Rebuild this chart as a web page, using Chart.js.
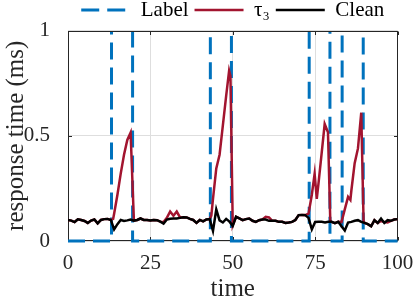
<!DOCTYPE html>
<html>
<head>
<meta charset="utf-8">
<script src="https://cdn.jsdelivr.net/npm/chart.js@4.4.0/dist/chart.umd.min.js"></script>
<style>
  html, body { margin: 0; padding: 0; background: #fff; }
  #wrap { width: 416px; height: 304px; position: relative; }
</style>
</head>
<body>
<div id="wrap"><canvas id="chart"></canvas></div>
<script>
// Response time traces

// Clean trace, one sample per time unit
const times = [
  0, 1, 2, 3, 4, 5, 6, 7, 8, 9,
  10, 11, 12, 13, 14, 15, 16, 17, 18, 19,
  20, 21, 22, 23, 24, 25, 26, 27, 28, 29,
  30, 31, 32, 33, 34, 35, 36, 37, 38, 39,
  40, 41, 42, 43, 44, 45, 46, 47, 48, 49,
  50, 51, 52, 53, 54, 55, 56, 57, 58, 59,
  60, 61, 62, 63, 64, 65, 66, 67, 68, 69,
  70, 71, 72, 73, 74, 75, 76, 77, 78, 79,
  80, 81, 82, 83, 84, 85, 86, 87, 88, 89,
  90, 91, 92, 93, 94, 95, 96, 97, 98, 99,
  100
];
const cleanValues = [
  0.100, 0.097, 0.090, 0.103, 0.100, 0.095, 0.086, 0.097, 0.102, 0.084,
  0.100, 0.104, 0.105, 0.100, 0.055, 0.080, 0.100, 0.095, 0.098, 0.102,
  0.097, 0.100, 0.107, 0.100, 0.100, 0.097, 0.100, 0.099, 0.092, 0.083,
  0.102, 0.106, 0.107, 0.107, 0.110, 0.113, 0.112, 0.105, 0.100, 0.086,
  0.100, 0.093, 0.102, 0.104, 0.048, 0.150, 0.098, 0.088, 0.105, 0.092,
  0.072, 0.115, 0.107, 0.099, 0.104, 0.107, 0.096, 0.091, 0.099, 0.102,
  0.102, 0.096, 0.096, 0.096, 0.091, 0.091, 0.086, 0.088, 0.091, 0.100,
  0.123, 0.124, 0.123, 0.110, 0.055, 0.090, 0.091, 0.091, 0.088, 0.091,
  0.091, 0.085, 0.091, 0.070, 0.050, 0.088, 0.091, 0.096, 0.099, 0.091,
  0.086, 0.080, 0.070, 0.099, 0.086, 0.107, 0.086, 0.099, 0.096, 0.102,
  0.104
];

// tau_3 trace (extra samples around the peaks)
const tau3Times = [
  0, 1, 2, 3, 4, 5, 6, 7, 8, 9, 10, 11, 12, 13,
  13.7,
  14, 15, 16, 17, 18, 19,
  20, 21, 22, 23, 24, 25, 26, 27, 28, 29,
  30, 31, 32, 33, 34,
  35, 36, 37, 38, 39, 40, 41, 42, 43,
  43.5, 44, 45, 46, 47, 48, 48.9, 49.3, 50,
  51, 52, 53, 54, 55, 56, 57, 58, 59,
  60, 61,
  62, 63, 64, 65, 66, 67, 68, 69, 70, 71, 72,
  73, 74, 74.85, 75.5, 76, 77, 77.9, 78.9, 79.6,
  80, 81, 82, 83,
  84, 85, 85.7, 86, 87, 88, 89, 89.7,
  90, 91, 92, 93, 94,
  95, 96, 97, 98, 99, 100
];
const tau3Values = [
  0.100, 0.097, 0.090, 0.103, 0.100, 0.095, 0.086, 0.097, 0.102, 0.084, 0.100, 0.104, 0.105, 0.100,
  0.105,
  0.13, 0.22, 0.32, 0.41, 0.48, 0.515,
  0.097, 0.100, 0.107, 0.100, 0.100, 0.097, 0.100, 0.099, 0.092, 0.090,
  0.110, 0.140, 0.120, 0.140, 0.112,
  0.113, 0.112, 0.105, 0.100, 0.086, 0.100, 0.093, 0.102, 0.104,
  0.12, 0.20, 0.345, 0.41, 0.55, 0.69, 0.81, 0.785, 0.075,
  0.115, 0.107, 0.099, 0.104, 0.107, 0.096, 0.091, 0.099, 0.102,
  0.115, 0.112,
  0.096, 0.096, 0.091, 0.091, 0.086, 0.088, 0.091, 0.100, 0.123, 0.124, 0.123,
  0.13, 0.22, 0.32, 0.20, 0.27, 0.42, 0.556, 0.517, 0.095,
  0.091, 0.085, 0.091, 0.090,
  0.15, 0.21, 0.195, 0.24, 0.37, 0.44, 0.61, 0.095,
  0.086, 0.080, 0.070, 0.099, 0.086,
  0.095, 0.090, 0.088, 0.096, 0.102, 0.104
];

// Label: step signal, value holds until the next change time
const labelTimes = [0, 13.2, 19.6, 43.2, 49.6, 73.2, 79.5, 83.2, 89.6, 100];
const labelValues = [0, 1, 0, 1, 0, 1, 0, 1, 0, 0];

const xTicks = [0, 25, 50, 75, 100];
const yTicks = [0, 0.5, 1];

const serif = "'Liberation Serif', 'Times New Roman', serif";
const axisColor = '#262626';

function toPoints(xs, ys) {
  return xs.map((x, i) => ({ x: x, y: ys[i] }));
}

// Box around the plot area with inward tick marks
const axesBox = {
  id: 'axesBox',
  beforeDatasetsDraw(chart) {
    const { ctx, chartArea: a, scales } = chart;
    const l = Math.round(a.left) + 0.5;
    const r = Math.round(a.right) - 0.5;
    const t = Math.round(a.top) + 0.5;
    const b = Math.round(a.bottom) - 0.5;
    const len = 3.5;
    ctx.save();
    ctx.strokeStyle = axisColor;
    ctx.lineWidth = 1;
    ctx.strokeRect(l, t, r - l, b - t);
    ctx.beginPath();
    xTicks.forEach(v => {
      const px = Math.round(scales.x.getPixelForValue(v)) + 0.5;
      ctx.moveTo(px, b); ctx.lineTo(px, b - len);
      ctx.moveTo(px, t); ctx.lineTo(px, t + len);
    });
    yTicks.forEach(v => {
      const py = Math.round(scales.y.getPixelForValue(v)) + 0.5;
      ctx.moveTo(l, py); ctx.lineTo(l + len, py);
      ctx.moveTo(r, py); ctx.lineTo(r - len, py);
    });
    ctx.stroke();
    ctx.restore();
  }
};

const ctx = document.getElementById('chart').getContext('2d');

new Chart(ctx, {
  type: 'line',
  data: {
    datasets: [
      {
        label: 'Label',
        data: toPoints(labelTimes, labelValues),
        borderColor: '#0072BD',
        borderWidth: 3,
        borderDash: [17, 8],
        borderCapStyle: 'butt',
        stepped: true,
        pointRadius: 0,
        // the top edge of the box hides the "1" level, as in the original
        clip: { left: 2, right: 2, top: -1.5, bottom: 2 },
        order: 3
      },
      {
        label: 'τ₃',
        data: toPoints(tau3Times, tau3Values),
        borderColor: '#A2142F',
        borderWidth: 2.5,
        pointRadius: 0,
        order: 2
      },
      {
        label: 'Clean',
        data: toPoints(times, cleanValues),
        borderColor: '#000000',
        borderWidth: 2.5,
        pointRadius: 0,
        order: 1
      }
    ]
  },
  options: {
    responsive: true,
    maintainAspectRatio: false,
    animation: false,
    events: [],
    layout: { padding: { left: 0, right: 18.5, top: -8.5, bottom: 0 } },
    plugins: {
      legend: {
        position: 'top',
        fullSize: false,
        maxHeight: 38,
        labels: {
          usePointStyle: true,
          pointStyle: 'line',
          pointStyleWidth: 49,
          padding: 6,
          color: '#000',
          font: { family: serif, size: 21 },
          sort: (a, b) => a.datasetIndex - b.datasetIndex,
          generateLabels(chart) {
            const items = Chart.defaults.plugins.legend.labels.generateLabels(chart);
            items.forEach(item => {
              const ds = chart.data.datasets[item.datasetIndex];
              item.strokeStyle = ds.borderColor;
              item.lineWidth = ds.borderWidth;
              item.lineDash = ds.borderDash ? [18, 8] : [];
            });
            return items;
          }
        }
      },
      tooltip: { enabled: false }
    },
    scales: {
      x: {
        type: 'linear',
        min: 0,
        max: 100,
        afterBuildTicks(scale) {
          scale.ticks = xTicks.map(v => ({ value: v }));
        },
        afterFit(scale) {
          scale.height = 63;
        },
        ticks: {
          autoSkip: false,
          maxRotation: 0,
          padding: 2,
          color: axisColor,
          font: { family: serif, size: 21 }
        },
        grid: { color: '#dedede', drawTicks: true, tickLength: 8, tickColor: 'rgba(0,0,0,0)' },
        border: { display: false },
        title: {
          display: true,
          text: 'time',
          color: axisColor,
          font: { family: serif, size: 25, lineHeight: 1 },
          padding: { top: 0, bottom: 2 }
        }
      },
      y: {
        type: 'linear',
        min: 0,
        max: 1,
        afterBuildTicks(scale) {
          scale.ticks = yTicks.map(v => ({ value: v }));
        },
        afterFit(scale) {
          scale.width = 68;
        },
        ticks: {
          padding: 18,
          color: axisColor,
          font: { family: serif, size: 21 },
          callback: v => String(v)
        },
        grid: { color: '#dedede', drawTicks: false },
        border: { display: false },
        title: {
          display: true,
          text: 'response time (ms)',
          color: axisColor,
          font: { family: serif, size: 25, lineHeight: 1.2 },
          padding: { top: 1, bottom: 0 }
        }
      }
    }
  },
  plugins: [axesBox]
});
</script>
</body>
</html>
